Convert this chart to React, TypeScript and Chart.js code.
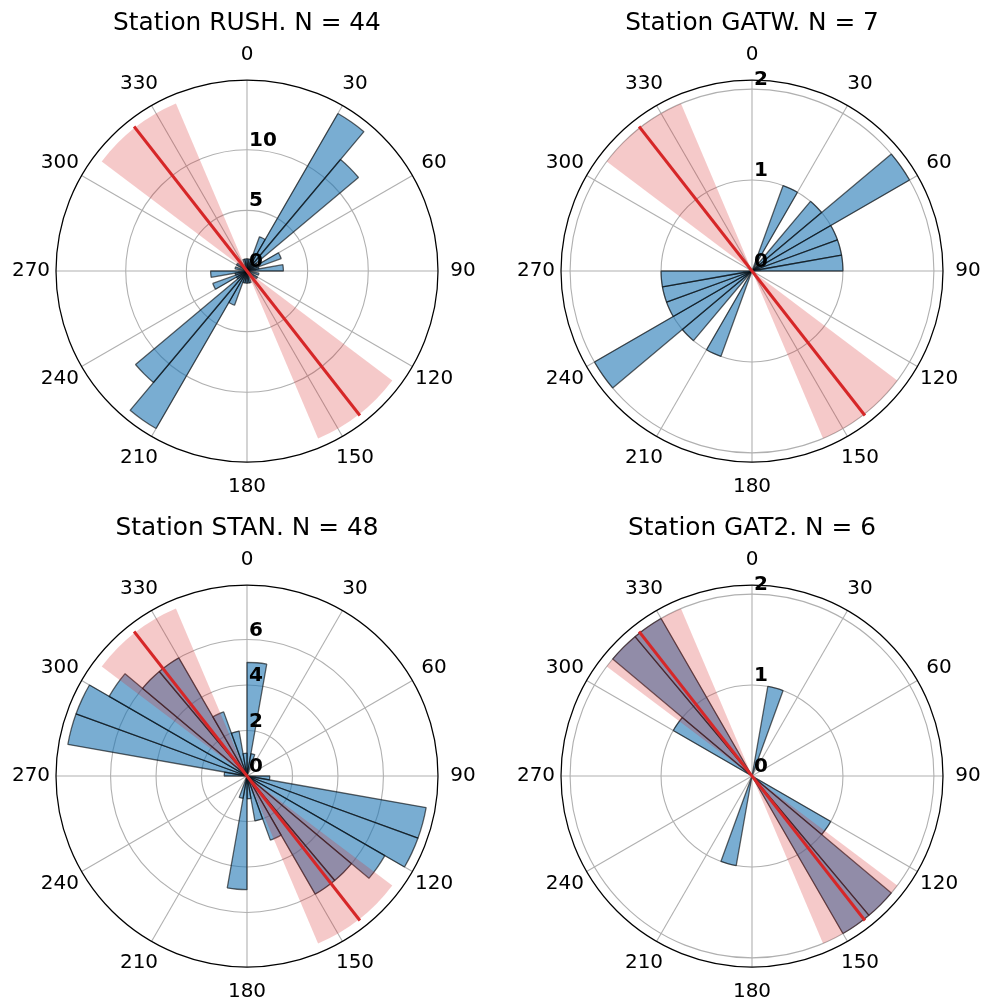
import React, { useEffect, useRef } from 'react';
import { Chart, registerables } from 'chart.js';

Chart.register(...registerables);

// ---------- data ----------
const BIN_WIDTH = 10; // degrees per bin
const BIN_LABELS = Array.from({ length: 360 / BIN_WIDTH }, (_, i) => `${i * BIN_WIDTH}-${(i + 1) * BIN_WIDTH}`);
const THETA_TICKS = [0, 30, 60, 90, 120, 150, 180, 210, 240, 270, 300, 330];

const STATION_NAMES = ['RUSH', 'GATW', 'STAN', 'GAT2'];
const STATION_N = [44, 7, 48, 6];

// counts per 10° bin, 0..360 (axial data: each orientation also counted at +180°)
const RUSH_COUNTS = [
  1, 1, 3, 15, 12, 1, 3, 1, 3, 0, 1, 0, 1, 0, 0, 0, 1, 1,
  1, 1, 3, 15, 12, 1, 3, 1, 3, 0, 1, 0, 1, 0, 0, 0, 1, 1,
];
const GATW_COUNTS = [
  0, 0, 1, 0, 1, 2, 1, 1, 1, 0, 0, 0, 0, 0, 0, 0, 0, 0,
  0, 0, 1, 0, 1, 2, 1, 1, 1, 0, 0, 0, 0, 0, 0, 0, 0, 0,
];
const STAN_COUNTS = [
  5, 1, 0, 0, 0, 0, 0, 0, 0, 1, 8, 8, 7, 6, 6, 3, 2, 1,
  5, 1, 0, 0, 0, 0, 0, 0, 0, 1, 8, 8, 7, 6, 6, 3, 2, 1,
];
const GAT2_COUNTS = [
  0, 1, 0, 0, 0, 0, 0, 0, 0, 0, 0, 0, 1, 2, 2, 0, 0, 0,
  0, 1, 0, 0, 0, 0, 0, 0, 0, 0, 0, 0, 1, 2, 2, 0, 0, 0,
];

const R_MAX = [15.75, 2.1, 8.4, 2.1];
const RUSH_TICKS = [0, 5, 10];
const GATW_TICKS = [0, 1, 2];
const STAN_TICKS = [0, 2, 4, 6];
const GAT2_TICKS = [0, 1, 2];

// regional stress direction and its uncertainty
const SHMAX_AZIMUTH = 322;
const SHMAX_HALF_WIDTH = 15;

const COUNTS = [RUSH_COUNTS, GATW_COUNTS, STAN_COUNTS, GAT2_COUNTS];
const TICKS = [RUSH_TICKS, GATW_TICKS, STAN_TICKS, GAT2_TICKS];

// ---------- styles ----------
const FONT = '"DejaVu Sans", Verdana, sans-serif';
const BAR_FILL = 'rgba(31,119,180,0.6)';
const BAR_EDGE = 'rgba(0,0,0,0.6)';
const GRID = '#b0b0b0';
const RED = '#d62728';
const WEDGE = 'rgba(214,39,40,0.25)';

const roseOverlay = {
  id: 'roseOverlay',
  afterDatasetsDraw(chart: any, _args: any, opts: any) {
    const s = chart.scales.r;
    const ctx = chart.ctx;
    const ang = (deg: number) => s.getIndexAngle(deg / BIN_WIDTH) - Math.PI / 2;
    const r = s.getDistanceFromCenterForValue(opts.wedgeValue);
    ctx.save();
    ctx.fillStyle = WEDGE;
    for (const base of [opts.azimuth, opts.azimuth - 180]) {
      ctx.beginPath();
      ctx.moveTo(s.xCenter, s.yCenter);
      ctx.arc(s.xCenter, s.yCenter, r, ang(base - opts.halfWidth), ang(base + opts.halfWidth));
      ctx.closePath();
      ctx.fill();
    }
    ctx.restore();
  },
  afterDraw(chart: any, _args: any, opts: any) {
    const s = chart.scales.r;
    const ctx = chart.ctx;
    ctx.save();
    // outer spine
    ctx.strokeStyle = '#000';
    ctx.lineWidth = 1.25;
    ctx.beginPath();
    ctx.arc(s.xCenter, s.yCenter, s.drawingArea, 0, Math.PI * 2);
    ctx.stroke();
    // red mean-direction line
    const r = s.getDistanceFromCenterForValue(opts.wedgeValue);
    const p1 = s.getPointPosition(opts.azimuth / BIN_WIDTH, r);
    const p2 = s.getPointPosition((opts.azimuth - 180) / BIN_WIDTH, r);
    ctx.strokeStyle = RED;
    ctx.lineWidth = 3;
    ctx.lineCap = 'square';
    ctx.beginPath();
    ctx.moveTo(p1.x, p1.y);
    ctx.lineTo(p2.x, p2.y);
    ctx.stroke();
    // angle labels
    ctx.fillStyle = '#000';
    ctx.font = `20px ${FONT}`;
    ctx.textAlign = 'center';
    ctx.textBaseline = 'middle';
    for (const t of THETA_TICKS) {
      const p = s.getPointPosition(t / BIN_WIDTH, s.drawingArea + 25);
      ctx.fillText(String(t), p.x, p.y);
    }
    // radial tick labels
    ctx.font = `bold 20px ${FONT}`;
    ctx.textAlign = 'left';
    ctx.textBaseline = 'alphabetic';
    for (const v of opts.ticks) {
      const d = s.getDistanceFromCenterForValue(v);
      ctx.fillText(String(v), s.xCenter + 2, s.yCenter - d - 4);
    }
    ctx.restore();
  },
};

function Rose({ idx, left, top }: { idx: number; left: number; top: number }) {
  const ref = useRef<HTMLCanvasElement | null>(null);
  useEffect(() => {
    if (!ref.current) return;
    const counts = COUNTS[idx];
    const ticks = TICKS[idx];
    const chart = new Chart(ref.current, {
      type: 'polarArea',
      data: {
        labels: BIN_LABELS,
        datasets: [
          {
            data: counts,
            backgroundColor: BAR_FILL,
            borderColor: BAR_EDGE,
            borderWidth: (c: any) => (c.raw > 0 ? 1.3 : 0),
          },
        ],
      },
      options: {
        responsive: false,
        maintainAspectRatio: false,
        animation: false,
        layout: { padding: { left: 56, right: 42, top: 0, bottom: 37 } },
        scales: {
          r: {
            min: 0,
            max: R_MAX[idx],
            startAngle: 0,
            z: 1,
            afterBuildTicks: (scale: any) => {
              scale.ticks = ticks.map((v) => ({ value: v }));
            },
            ticks: { display: false },
            grid: { display: true, circular: true, color: GRID, lineWidth: 1.1 },
            angleLines: {
              display: true,
              color: GRID,
              lineWidth: (c: any) => (c.index % 3 === 0 ? 1.1 : 0),
            },
            pointLabels: { display: false },
          },
        },
        plugins: {
          legend: { display: false },
          tooltip: { enabled: false },
          title: {
            display: true,
            text: `Station ${STATION_NAMES[idx]}. N = ${STATION_N[idx]}`,
            color: '#000',
            font: { family: FONT, size: 24.8, weight: 'normal' },
            padding: { top: 9, bottom: 42.2 },
          },
          roseOverlay: {
            azimuth: SHMAX_AZIMUTH,
            halfWidth: SHMAX_HALF_WIDTH,
            wedgeValue: Math.max(...counts),
            ticks,
          },
        } as any,
      } as any,
      plugins: [roseOverlay],
    });
    return () => chart.destroy();
  }, [idx]);
  return (
    <canvas
      ref={ref}
      width={480}
      height={500}
      style={{ position: 'absolute', left, top, width: 480, height: 500 }}
    />
  );
}

export default function App() {
  return (
    <div style={{ position: 'absolute', left: 0, top: 0, width: 985, height: 1008, background: '#fff', overflow: 'hidden' }}>
      <Rose idx={0} left={0} top={0} />
      <Rose idx={1} left={505} top={0} />
      <Rose idx={2} left={0} top={505} />
      <Rose idx={3} left={505} top={505} />
    </div>
  );
}
